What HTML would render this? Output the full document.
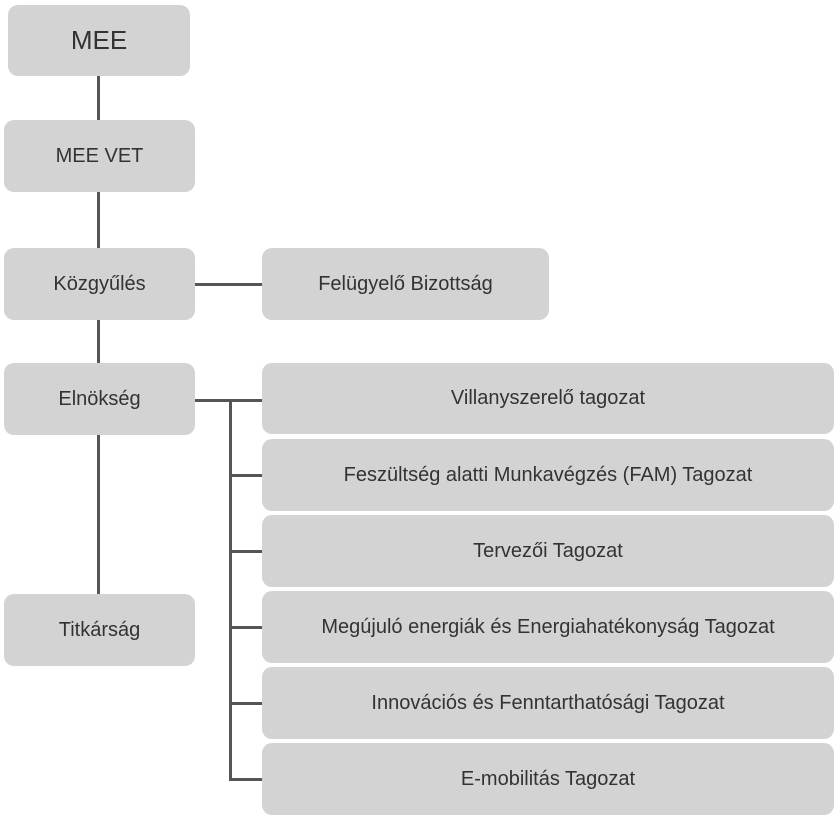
<!DOCTYPE html>
<html><head><meta charset="utf-8"><style>
body{margin:0;width:840px;height:821px;background:#fff;position:relative;overflow:hidden;font-family:"Liberation Sans",Arial,sans-serif}
.b{position:absolute;background:#d3d3d3;border-radius:10px;display:flex;align-items:center;justify-content:center;color:#333;font-size:20px}
.l{position:absolute;background:#555}
</style></head><body>
<div class="l" style="left:97px;top:76px;width:3px;height:520px"></div>
<div class="l" style="left:194px;top:283px;width:70px;height:3px"></div>
<div class="l" style="left:194px;top:399px;width:70px;height:3px"></div>
<div class="l" style="left:229px;top:399px;width:3px;height:382px"></div>
<div class="l" style="left:229px;top:474px;width:35px;height:3px"></div>
<div class="l" style="left:229px;top:550px;width:35px;height:3px"></div>
<div class="l" style="left:229px;top:626px;width:35px;height:3px"></div>
<div class="l" style="left:229px;top:702px;width:35px;height:3px"></div>
<div class="l" style="left:229px;top:778px;width:35px;height:3px"></div>
<div class="b" style="left:8px;top:5px;width:182px;height:71px;font-size:26px">MEE</div>
<div class="b" style="left:4px;top:120px;width:191px;height:72px">MEE VET</div>
<div class="b" style="left:4px;top:248px;width:191px;height:72px">Közgyűlés</div>
<div class="b" style="left:262px;top:248px;width:287px;height:72px">Felügyelő Bizottság</div>
<div class="b" style="left:4px;top:363px;width:191px;height:72px">Elnökség</div>
<div class="b" style="left:4px;top:594px;width:191px;height:72px">Titkárság</div>
<div class="b" style="left:262px;top:363px;width:572px;height:71px">Villanyszerelő tagozat</div>
<div class="b" style="left:262px;top:439px;width:572px;height:72px">Feszültség alatti Munkavégzés (FAM) Tagozat</div>
<div class="b" style="left:262px;top:515px;width:572px;height:72px">Tervezői Tagozat</div>
<div class="b" style="left:262px;top:591px;width:572px;height:72px">Megújuló energiák és Energiahatékonyság Tagozat</div>
<div class="b" style="left:262px;top:667px;width:572px;height:72px">Innovációs és Fenntarthatósági Tagozat</div>
<div class="b" style="left:262px;top:743px;width:572px;height:72px">E-mobilitás Tagozat</div>
</body></html>
